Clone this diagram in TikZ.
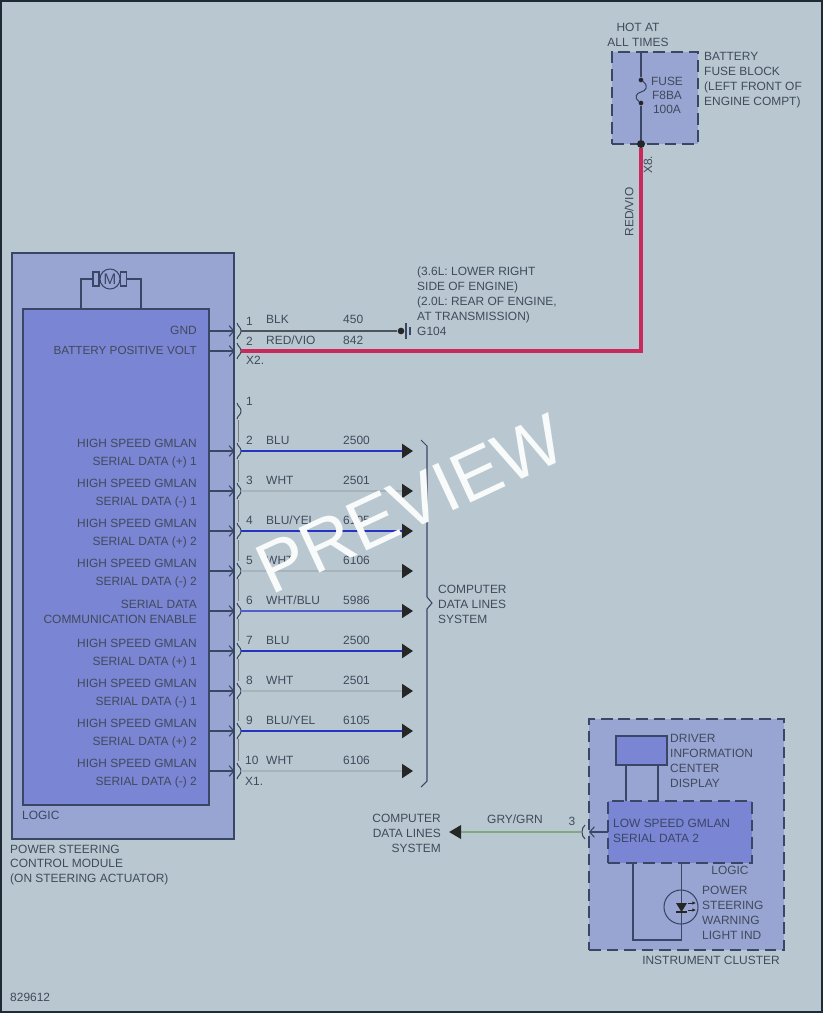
\documentclass[tikz,border=0pt]{standalone}
\usepackage{fontspec}
\setmainfont{Liberation Sans}
\usetikzlibrary{arrows.meta}
\definecolor{pagecol}{HTML}{B9C8D0}
\definecolor{edgecol}{HTML}{1E2A36}
\definecolor{outercol}{HTML}{98A4D2}
\definecolor{innercol}{HTML}{7A85D3}
\definecolor{linecol}{HTML}{3A4666}
\definecolor{txtcol}{HTML}{404A5C}
\definecolor{bluecol}{HTML}{2433C4}
\definecolor{whtcol}{HTML}{A6B3BB}
\definecolor{redcol}{HTML}{C92A5C}
\definecolor{blkcol}{HTML}{4C545E}
\definecolor{grncol}{HTML}{7FA884}
\tikzset{
	lbl/.style={inner sep=0pt,text=txtcol,font=\fontsize{10.2}{12.75}\selectfont},
	leftlbl/.style={lbl,anchor=west,align=left},
	rightlbl/.style={lbl,anchor=east,align=right},
	midlbl/.style={lbl,align=center},
	blockbox/.style={rectangle,draw=linecol,line width=1pt,inner sep=0pt},
	dashbox/.style={blockbox,dash pattern=on 10pt off 5pt},
	thinline/.style={draw=linecol,line width=0.9pt},
	pinarrow/.style={thinline,-{Straight Barb[length=4pt,width=9pt]}},
	bluwire/.style={bluecol,line width=2.2pt,-{Triangle[length=0.33cm,width=0.42cm,color=black!85]}},
	bluthin/.style={bluecol!80,line width=1.2pt,-{Triangle[length=0.33cm,width=0.42cm,color=black!85]}},
	whtwire/.style={whtcol,line width=1.6pt,-{Triangle[length=0.33cm,width=0.42cm,color=black!85]}},
}
\newcommand{\pincup}[1]{\draw[thinline,shift={(#1)}] (-4,-8) .. controls (-3,-4) and (0,-4) .. (0,0) .. controls (0,4) and (-3,4) .. (-4,8);}
\begin{document}
\begin{tikzpicture}[x=0.03cm,y=-0.03cm]
	\useasboundingbox (0,0) rectangle (823,1013);
	\node (page) at (411.5,506.5) [rectangle,fill=pagecol,draw=edgecol,line width=4pt,minimum width=24.69cm,minimum height=30.39cm] {};

	\node (pcm) at (123,546) [blockbox,fill=outercol,minimum width=6.66cm,minimum height=17.58cm] {};
	\node (pcmlogic) at (116,557) [blockbox,fill=innercol,minimum width=5.58cm,minimum height=14.88cm] {};
	\node (motor) at (110,279) [circle,draw=linecol,line width=0.9pt,minimum size=0.6cm,inner sep=0pt,text=linecol,font=\fontsize{13}{14}\selectfont] {M};
	\node (brushl) at (96,279) [rectangle,draw=linecol,line width=0.9pt,minimum width=0.18cm,minimum height=0.42cm,inner sep=0pt] {};
	\node (brushr) at (123.5,279) [rectangle,draw=linecol,line width=0.9pt,minimum width=0.2cm,minimum height=0.42cm,inner sep=0pt] {};
	\coordinate (motl) at (81,309); \coordinate (motr) at (141,309);
	\draw[thinline] (brushl.west) -| (motl);
	\draw[thinline] (brushr.east) -| (motr);
	\node (pcmlbl) at (22,815) [leftlbl,text=linecol] {LOGIC};
	\node (pcmname) at (10,865) [leftlbl] {POWER STEERING\\CONTROL MODULE\\(ON STEERING ACTUATOR)};
	\node (partno) at (10,997) [leftlbl] {829612};

	\node (fuseblock) at (655,98) [dashbox,fill=outercol,minimum width=2.58cm,minimum height=2.76cm] {};
	\node (hot) at (638,35) [midlbl] {HOT AT\\ALL TIMES};
	\node (fbname) at (704,80) [leftlbl] {BATTERY\\FUSE BLOCK\\(LEFT FRONT OF\\ENGINE COMPT)};
	\node (fusetxt) at (667,95) [midlbl,font=\fontsize{10.2}{12}\selectfont] {FUSE\\F8BA\\100A};
	\coordinate (fusein) at (641,52);
	\node (fusea) at (641,80) [circle,fill=black!85,inner sep=0pt,minimum size=0.14cm] {};
	\node (fuseb) at (641,103) [circle,fill=black!85,inner sep=0pt,minimum size=0.14cm] {};
	\node (fusec) at (641,144) [circle,fill=black!85,inner sep=0pt,minimum size=0.24cm] {};
	\draw[thinline] (fusein) -- (fusea);
	\draw[thinline] (fusea) .. controls (649,86) and (646,91) .. (641,92) .. controls (636,93) and (634,98) .. (fuseb);
	\draw[thinline] (fuseb) -- (fusec);
	\node (x8) at (648,165) [lbl,rotate=90] {X8.};
	\node (redvio) at (629,212) [lbl,rotate=90] {RED/VIO};

	\coordinate (a01) at (209,331); \coordinate (b01) at (234.5,331); \coordinate (c01) at (241,331); \coordinate (d01) at (392,331);
	\coordinate (a02) at (209,351); \coordinate (b02) at (234.5,351); \coordinate (c02) at (241,351); \coordinate (d02) at (641,351);
	\node (gnd) at (197,330) [rightlbl] {GND};
	\node (batt) at (197,350) [rightlbl,font=\fontsize{10}{12.75}\selectfont] {BATTERY POSITIVE VOLT};
	\draw[pinarrow] (a01) -- (b01); \pincup{c01}
	\draw[pinarrow] (a02) -- (b02); \pincup{c02}
	\draw[blkcol,line width=2.2pt] (c01) -- (d01);
	\draw[redcol,line width=2.6pt,line join=miter] (c02) -- (d02) -- (fusec);
	\node (n01) at (246,321) [leftlbl] {1}; \node (w01) at (266,319) [leftlbl] {BLK}; \node (k01) at (343,319) [leftlbl] {450};
	\node (n02) at (246,341) [leftlbl] {2}; \node (w02) at (266,340) [leftlbl] {RED/VIO}; \node (k02) at (343,340) [leftlbl] {842};
	\node (x2) at (246,360) [leftlbl] {X2.};
	\node (gdot) at (401,331) [circle,fill=black!85,inner sep=0pt,minimum size=0.2cm] {};
	\coordinate (gup) at (406,323); \coordinate (gdown) at (406,339); \coordinate (gupb) at (410,327); \coordinate (gdownb) at (410,335);
	\draw[blkcol,line width=2pt] (d01) -- (gdot);
	\draw[thinline] (gup) -- (gdown); \draw[thinline] (gupb) -- (gdownb);
	\node (g104) at (417,331) [leftlbl] {G104};
	\node (gnote) at (417,295) [leftlbl] {(3.6L: LOWER RIGHT\\SIDE OF ENGINE)\\(2.0L: REAR OF ENGINE,\\AT TRANSMISSION)};

	\coordinate (bartop) at (238,420); \coordinate (barend) at (238,762);
	\draw[whtcol!70!black,line width=0.7pt,dash pattern=on 18.7pt off 15.3pt] (bartop) -- (barend);
	\coordinate (c11) at (241,411); \pincup{c11}
	\node (n11) at (246,401) [leftlbl] {1};

	\coordinate (a12) at (209,451); \coordinate (b12) at (234.5,451); \coordinate (c12) at (241,451); \coordinate (d12) at (413,451);
	\node (t12) at (197,454) [rightlbl] {HIGH SPEED GMLAN\\[2.6pt]SERIAL DATA (+) 1};
	\draw[pinarrow] (a12) -- (b12); \pincup{c12} \draw[bluwire] (c12) -- (d12);
	\node (n12) at (246,440) [leftlbl] {2}; \node (w12) at (266,440) [leftlbl] {BLU}; \node (k12) at (343,440) [leftlbl] {2500};

	\coordinate (a13) at (209,491); \coordinate (b13) at (234.5,491); \coordinate (c13) at (241,491); \coordinate (d13) at (413,491);
	\node (t13) at (197,494) [rightlbl] {HIGH SPEED GMLAN\\[2.6pt]SERIAL DATA (-) 1};
	\draw[pinarrow] (a13) -- (b13); \pincup{c13} \draw[whtwire] (c13) -- (d13);
	\node (n13) at (246,480) [leftlbl] {3}; \node (w13) at (266,480) [leftlbl] {WHT}; \node (k13) at (343,480) [leftlbl] {2501};

	\coordinate (a14) at (209,531); \coordinate (b14) at (234.5,531); \coordinate (c14) at (241,531); \coordinate (d14) at (413,531);
	\node (t14) at (197,534) [rightlbl] {HIGH SPEED GMLAN\\[2.6pt]SERIAL DATA (+) 2};
	\draw[pinarrow] (a14) -- (b14); \pincup{c14} \draw[bluwire] (c14) -- (d14);
	\node (n14) at (246,520) [leftlbl] {4}; \node (w14) at (266,520) [leftlbl] {BLU/YEL}; \node (k14) at (343,520) [leftlbl] {6105};

	\coordinate (a15) at (209,571); \coordinate (b15) at (234.5,571); \coordinate (c15) at (241,571); \coordinate (d15) at (413,571);
	\node (t15) at (197,574) [rightlbl] {HIGH SPEED GMLAN\\[2.6pt]SERIAL DATA (-) 2};
	\draw[pinarrow] (a15) -- (b15); \pincup{c15} \draw[whtwire] (c15) -- (d15);
	\node (n15) at (246,560) [leftlbl] {5}; \node (w15) at (266,560) [leftlbl] {WHT}; \node (k15) at (343,560) [leftlbl] {6106};

	\coordinate (a16) at (209,611); \coordinate (b16) at (234.5,611); \coordinate (c16) at (241,611); \coordinate (d16) at (413,611);
	\node (t16) at (197,612) [rightlbl] {SERIAL DATA\\COMMUNICATION ENABLE};
	\draw[pinarrow] (a16) -- (b16); \pincup{c16} \draw[bluthin] (c16) -- (d16);
	\node (n16) at (246,600) [leftlbl] {6}; \node (w16) at (266,600) [leftlbl] {WHT/BLU}; \node (k16) at (343,600) [leftlbl] {5986};

	\coordinate (a17) at (209,651); \coordinate (b17) at (234.5,651); \coordinate (c17) at (241,651); \coordinate (d17) at (413,651);
	\node (t17) at (197,654) [rightlbl] {HIGH SPEED GMLAN\\[2.6pt]SERIAL DATA (+) 1};
	\draw[pinarrow] (a17) -- (b17); \pincup{c17} \draw[bluwire] (c17) -- (d17);
	\node (n17) at (246,640) [leftlbl] {7}; \node (w17) at (266,640) [leftlbl] {BLU}; \node (k17) at (343,640) [leftlbl] {2500};

	\coordinate (a18) at (209,691); \coordinate (b18) at (234.5,691); \coordinate (c18) at (241,691); \coordinate (d18) at (413,691);
	\node (t18) at (197,694) [rightlbl] {HIGH SPEED GMLAN\\[2.6pt]SERIAL DATA (-) 1};
	\draw[pinarrow] (a18) -- (b18); \pincup{c18} \draw[whtwire] (c18) -- (d18);
	\node (n18) at (246,680) [leftlbl] {8}; \node (w18) at (266,680) [leftlbl] {WHT}; \node (k18) at (343,680) [leftlbl] {2501};

	\coordinate (a19) at (209,731); \coordinate (b19) at (234.5,731); \coordinate (c19) at (241,731); \coordinate (d19) at (413,731);
	\node (t19) at (197,734) [rightlbl] {HIGH SPEED GMLAN\\[2.6pt]SERIAL DATA (+) 2};
	\draw[pinarrow] (a19) -- (b19); \pincup{c19} \draw[bluwire] (c19) -- (d19);
	\node (n19) at (246,720) [leftlbl] {9}; \node (w19) at (266,720) [leftlbl] {BLU/YEL}; \node (k19) at (343,720) [leftlbl] {6105};

	\coordinate (a20) at (209,771); \coordinate (b20) at (234.5,771); \coordinate (c20) at (241,771); \coordinate (d20) at (413,771);
	\node (t20) at (197,774) [rightlbl] {HIGH SPEED GMLAN\\[2.6pt]SERIAL DATA (-) 2};
	\draw[pinarrow] (a20) -- (b20); \pincup{c20} \draw[whtwire] (c20) -- (d20);
	\node (n20) at (245,760) [leftlbl] {10}; \node (w20) at (266,760) [leftlbl] {WHT}; \node (k20) at (343,760) [leftlbl] {6106};
	\node (x1) at (245,781) [leftlbl] {X1.};

	\coordinate (bra) at (421,440); \coordinate (brb) at (427,446); \coordinate (brc) at (427,597); \coordinate (brd) at (432,603);
	\coordinate (bre) at (427,609); \coordinate (brf) at (427,781); \coordinate (brg) at (421,787);
	\draw[thinline] (bra) -- (brb) -- (brc) -- (brd) -- (bre) -- (brf) -- (brg);
	\node (sysa) at (438,604) [leftlbl] {COMPUTER\\DATA LINES\\SYSTEM};

	\node (cluster) at (686.5,834.5) [dashbox,fill=outercol,minimum width=5.85cm,minimum height=6.93cm] {};
	\node (display) at (641.5,750.5) [blockbox,fill=innercol,minimum width=1.53cm,minimum height=0.87cm] {};
	\node (clogic) at (680,832) [dashbox,fill=innercol,minimum width=4.32cm,minimum height=1.86cm] {};
	\coordinate (disa) at (626,765); \coordinate (disb) at (626,801); \coordinate (disc) at (658,765); \coordinate (disd) at (658,801);
	\draw[thinline] (disa) -- (disb); \draw[thinline] (disc) -- (disd);
	\node (distxt) at (670,761) [leftlbl] {DRIVER\\INFORMATION\\CENTER\\DISPLAY};
	\node (lstxt) at (613,831) [leftlbl,text=linecol] {LOW SPEED GMLAN\\SERIAL DATA 2};
	\node (clogiclbl) at (730,870) [midlbl] {LOGIC};
	\node (clname) at (711,960) [midlbl] {INSTRUMENT CLUSTER};
	\node (lamp) at (681,907) [circle,draw=linecol,line width=0.9pt,minimum size=1.02cm,inner sep=0pt] {};
	\node (lamptxt) at (702,912.5) [leftlbl] {POWER\\STEERING\\WARNING\\LIGHT IND};
	\coordinate (lpa) at (633,863); \coordinate (lpb) at (633,940); \coordinate (lpc) at (681.5,940); \coordinate (lpd) at (681.5,863);
	\draw[thinline] (lpa) -- (lpb) -- (lpc) -- (lpd);
	\coordinate (lda) at (676,903); \coordinate (ldb) at (687,903); \coordinate (ldc) at (681.5,912); \coordinate (ldd) at (676,912); \coordinate (lde) at (687,912);
	\fill[black!85] (lda) -- (ldb) -- (ldc) -- cycle;
	\draw[black!85,line width=1pt] (ldd) -- (lde);
	\coordinate (lra) at (688,903); \coordinate (lrb) at (696,903); \coordinate (lrc) at (688,910); \coordinate (lrd) at (696,910);
	\draw[black!85,line width=0.8pt,-{Latex[length=3pt,width=3pt]}] (lra) -- (lrb);
	\draw[black!85,line width=0.8pt,-{Latex[length=3pt,width=3pt]}] (lrc) -- (lrd);

	\coordinate (cla) at (608,832); \coordinate (clb) at (589,832);
	\draw[pinarrow] (cla) -- (clb);
	\coordinate (clc) at (581,832); \coordinate (cld) at (449,832);
	\draw[thinline,shift={(clc)}] (4,-7) .. controls (2,-5) and (1,-3) .. (1,0) .. controls (1,3) and (2,5) .. (4,7);
	\draw[grncol,line width=2pt,-{Triangle[length=0.36cm,width=0.4cm,color=black!85]}] (clc) -- (cld);
	\node (n3) at (572,821) [midlbl] {3};
	\node (gg) at (515,819) [midlbl] {GRY/GRN};
	\node (sysb) at (441,833) [rightlbl] {COMPUTER\\DATA LINES\\SYSTEM};

	\node (preview) at (410,504) [inner sep=0pt,rotate=25,text=white!92!pagecol,font=\fontsize{61}{61}\selectfont] {PREVIEW};
\end{tikzpicture}
\end{document}
